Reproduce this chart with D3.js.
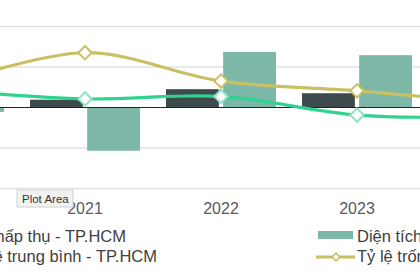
<!DOCTYPE html>
<html>
<head>
<meta charset="utf-8">
<script src="https://cdn.jsdelivr.net/npm/d3@7"></script>
<style>
  body { margin: 0; background: #fff; }
  svg { display: block; font-family: "Liberation Sans", Arial, sans-serif; }
</style>
</head>
<body>
<svg id="chart" width="420" height="280"></svg>
<script>
// data (primary axis units, axis itself is cropped away)
const years = ['2020', '2021', '2022', '2023', '2024'];
const hapThu = [10, 9, 22, 17, 15];        // Diện tích hấp thụ - TP.HCM
const moi = [-6, -54, 68, 64, 30];         // Diện tích mới - TP.HCM
const giaThue = [21, 10, 13, -10, -12];    // Giá thuê trung bình - TP.HCM
const tyLeTrong = [28, 67, 32, 20, 5];     // Tỷ lệ trống - TP.HCM
const yTicks = [-100, -50, 0, 50, 100];
const seriesNames = ['Diện tích hấp thụ - TP.HCM', 'Diện tích mới - TP.HCM',
  'Giá thuê trung bình - TP.HCM', 'Tỷ lệ trống - TP.HCM'];

const colors = { hapThu: '#3e4b4d', moi: '#7db7a8', gia: '#2fd38f', tyLe: '#c9c064' };

var svg = d3.select('#chart');

// the screenshot is cropped, so the plot runs past both edges
var x = d3.scalePoint()
  .domain(years)
  .range([-51, 493]);

var xSub = d3.scaleBand()
  .domain(['hapThu', 'moi'])
  .range([-55, 55])
  .paddingInner(0.075);

var y = d3.scaleLinear()
  .domain([-100, 100])
  .range([188, 26]);

// gridlines
svg.append('g')
  .selectAll('line')
  .data(yTicks)
  .enter()
  .append('line')
  .attr('x1', -130)
  .attr('x2', 430)
  .attr('y1', d => y(d) + 0.5)
  .attr('y2', d => y(d) + 0.5)
  .attr('stroke', d => d === 0 ? '#222' : '#e2e2e2')
  .attr('stroke-width', d => d === 0 ? 1.2 : 1.3);

// bars
var bars = [];
years.forEach((yr, i) => {
  bars.push({ year: yr, key: 'hapThu', value: hapThu[i] });
  bars.push({ year: yr, key: 'moi', value: moi[i] });
});

svg.append('g')
  .selectAll('rect')
  .data(bars)
  .enter()
  .append('rect')
  .attr('x', d => x(d.year) + xSub(d.key))
  .attr('width', xSub.bandwidth())
  .attr('y', d => Math.min(y(d.value), y(0)))
  .attr('height', d => Math.abs(y(d.value) - y(0)))
  .attr('fill', d => colors[d.key]);

// zero line again on top of bars
svg.append('line')
  .attr('x1', -130).attr('x2', 430)
  .attr('y1', y(0) + 0.5).attr('y2', y(0) + 0.5)
  .attr('stroke', '#222')
  .attr('stroke-width', 1.2);

// smoothed lines with diamond markers
var line = d3.line()
  .x((d, i) => x(years[i]))
  .y(d => y(d))
  .curve(d3.curveCardinal.tension(0));

var diamond = d3.symbol().type(d3.symbolSquare).size(90);

function drawSeries(values, color, markerStroke) {
  svg.append('path')
    .datum(values)
    .attr('d', line)
    .attr('fill', 'none')
    .attr('stroke', color)
    .attr('stroke-width', 3.2)
    .attr('stroke-linecap', 'round');

  svg.append('g')
    .selectAll('path')
    .data(values)
    .enter()
    .append('path')
    .attr('d', diamond)
    .attr('transform', (d, i) => `translate(${x(years[i])},${y(d)}) rotate(45)`)
    .attr('fill', '#fff')
    .attr('stroke', markerStroke)
    .attr('stroke-width', 2);
}

drawSeries(giaThue, colors.gia, '#8fe3c2');
drawSeries(tyLeTrong, colors.tyLe, colors.tyLe);

// category labels
svg.append('g')
  .selectAll('text')
  .data(years)
  .enter()
  .append('text')
  .attr('x', d => x(d))
  .attr('y', 214)
  .attr('text-anchor', 'middle')
  .attr('font-size', 16)
  .attr('fill', '#595959')
  .text(d => d);

// legend: two rows, left column right-aligned (cropped), right column left-aligned
var legend = svg.append('g').attr('font-size', 16.5).attr('fill', '#404040');

function legendItem(name, type, color, tx, ty, anchor) {
  var t = legend.append('text')
    .attr('x', tx)
    .attr('y', ty)
    .attr('text-anchor', anchor)
    .text(name);
  var start = anchor === 'end' ? tx - t.node().getComputedTextLength() : tx;
  var sx = start - 39, sy = ty - 7;
  if (type === 'bar') {
    legend.append('rect')
      .attr('x', sx).attr('y', sy - 4)
      .attr('width', 35).attr('height', 8)
      .attr('fill', color);
  } else {
    legend.append('line')
      .attr('x1', sx - 2).attr('x2', sx + 37)
      .attr('y1', sy + 2).attr('y2', sy + 2)
      .attr('stroke', color).attr('stroke-width', 3);
    legend.append('path')
      .attr('d', d3.symbol().type(d3.symbolSquare).size(30))
      .attr('transform', `translate(${sx + 18},${sy + 2}) rotate(45)`)
      .attr('fill', '#fff')
      .attr('stroke', color)
      .attr('stroke-width', 1.5);
  }
}

legendItem(seriesNames[0], 'bar', colors.hapThu, 126, 242, 'end');
legendItem(seriesNames[1], 'bar', colors.moi, 357, 242, 'start');
legendItem(seriesNames[2], 'line', colors.gia, 157, 262, 'end');
legendItem(seriesNames[3], 'line', colors.tyLe, 357, 262, 'start');

// hover tooltip captured in the screenshot
var tip = svg.append('g').attr('transform', 'translate(17,190)');
tip.append('rect')
  .attr('width', 56).attr('height', 17)
  .attr('fill', '#f2f2f2')
  .attr('stroke', '#d0d0d0')
  .attr('stroke-width', 1);
tip.append('text')
  .attr('x', 5).attr('y', 12.5)
  .attr('font-size', 11.5)
  .attr('fill', '#333')
  .text('Plot Area');
</script>
</body>
</html>
